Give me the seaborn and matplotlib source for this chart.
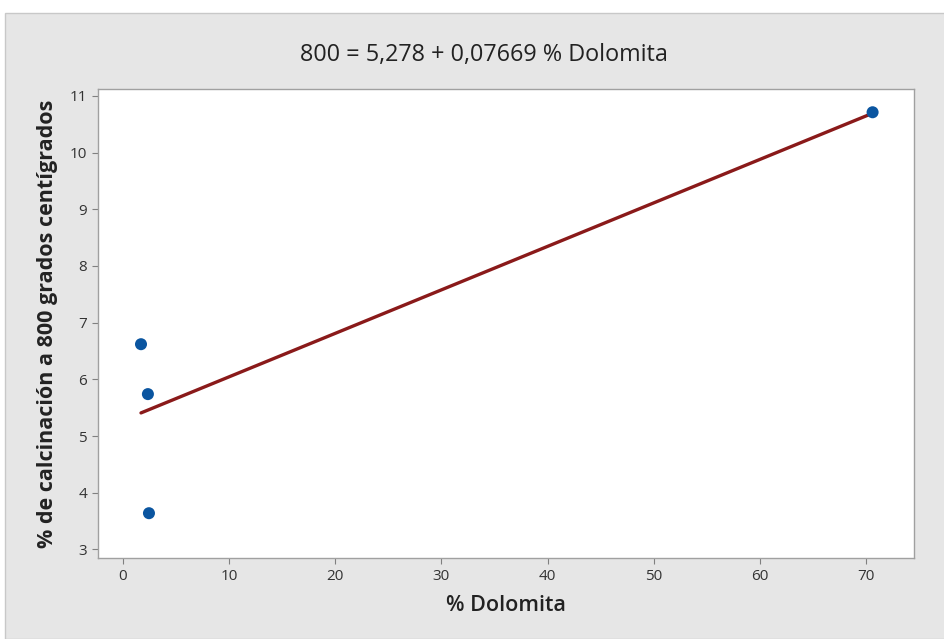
import matplotlib
matplotlib.use("Agg")
import matplotlib.pyplot as plt
import seaborn as sns
import numpy as np
import pandas as pd
from matplotlib.patches import Rectangle

# Data
dolomita = [1.7, 2.35, 2.45, 70.6]
calcinacion = [6.62, 5.74, 3.64, 10.71]
INTERCEPT = 5.278
SLOPE = 0.07669
title = "800 = 5,278 + 0,07669 % Dolomita"
xticks = [0, 10, 20, 30, 40, 50, 60, 70]
yticks = [3, 4, 5, 6, 7, 8, 9, 10, 11]

sns.set_theme(style="white")
plt.rcParams['font.family'] = ['Open Sans', 'DejaVu Sans']

df = pd.DataFrame({"x": dolomita, "y": calcinacion})
xr = np.array([min(dolomita), max(dolomita)])
line_df = pd.DataFrame({"x": xr, "y": INTERCEPT + SLOPE * xr})

fig = plt.figure(figsize=(9.45, 6.39), dpi=100, facecolor="white")
bg = Rectangle((5/945, 0), 940/945, 1 - 13/639, transform=fig.transFigure,
               facecolor="#e6e6e6", edgecolor="#c8c8c8", linewidth=1, zorder=-10)
fig.add_artist(bg)
ax = fig.add_axes([98/945, 1 - 558/639, (914-98)/945, (558-89)/639])
ax.set_zorder(5)
ax.set_facecolor("white")

sns.lineplot(data=line_df, x="x", y="y", ax=ax, color="#8a1a1a", linewidth=2.4, zorder=2)
sns.scatterplot(data=df, x="x", y="y", ax=ax, color="#0a55a0", s=75, edgecolor="none", zorder=3)

ax.set_xlim(-2.35, 74.5)
ax.set_ylim(2.85, 11.12)
ax.set_xticks(xticks)
ax.set_yticks(yticks)
ax.tick_params(axis="both", which="both", direction="out", length=4, width=0.8,
               color="#808080", labelsize=11, labelcolor="#333333", bottom=True, left=True, pad=4)
for s in ax.spines.values():
    s.set_color("#a0a0a0")
    s.set_linewidth(1)

ax.set_xlabel("% Dolomita", fontsize=15.5, fontweight="semibold", color="#222222", labelpad=8)
ax.set_ylabel("% de calcinación a 800 grados centígrados", fontsize=15.5, fontweight="bold",
              color="#222222", labelpad=8)
fig.text(484/945, 1 - 55/639, title, ha="center", va="center", fontsize=16.8, color="#222222")

fig.savefig("out.png", dpi=100, facecolor=fig.get_facecolor())
